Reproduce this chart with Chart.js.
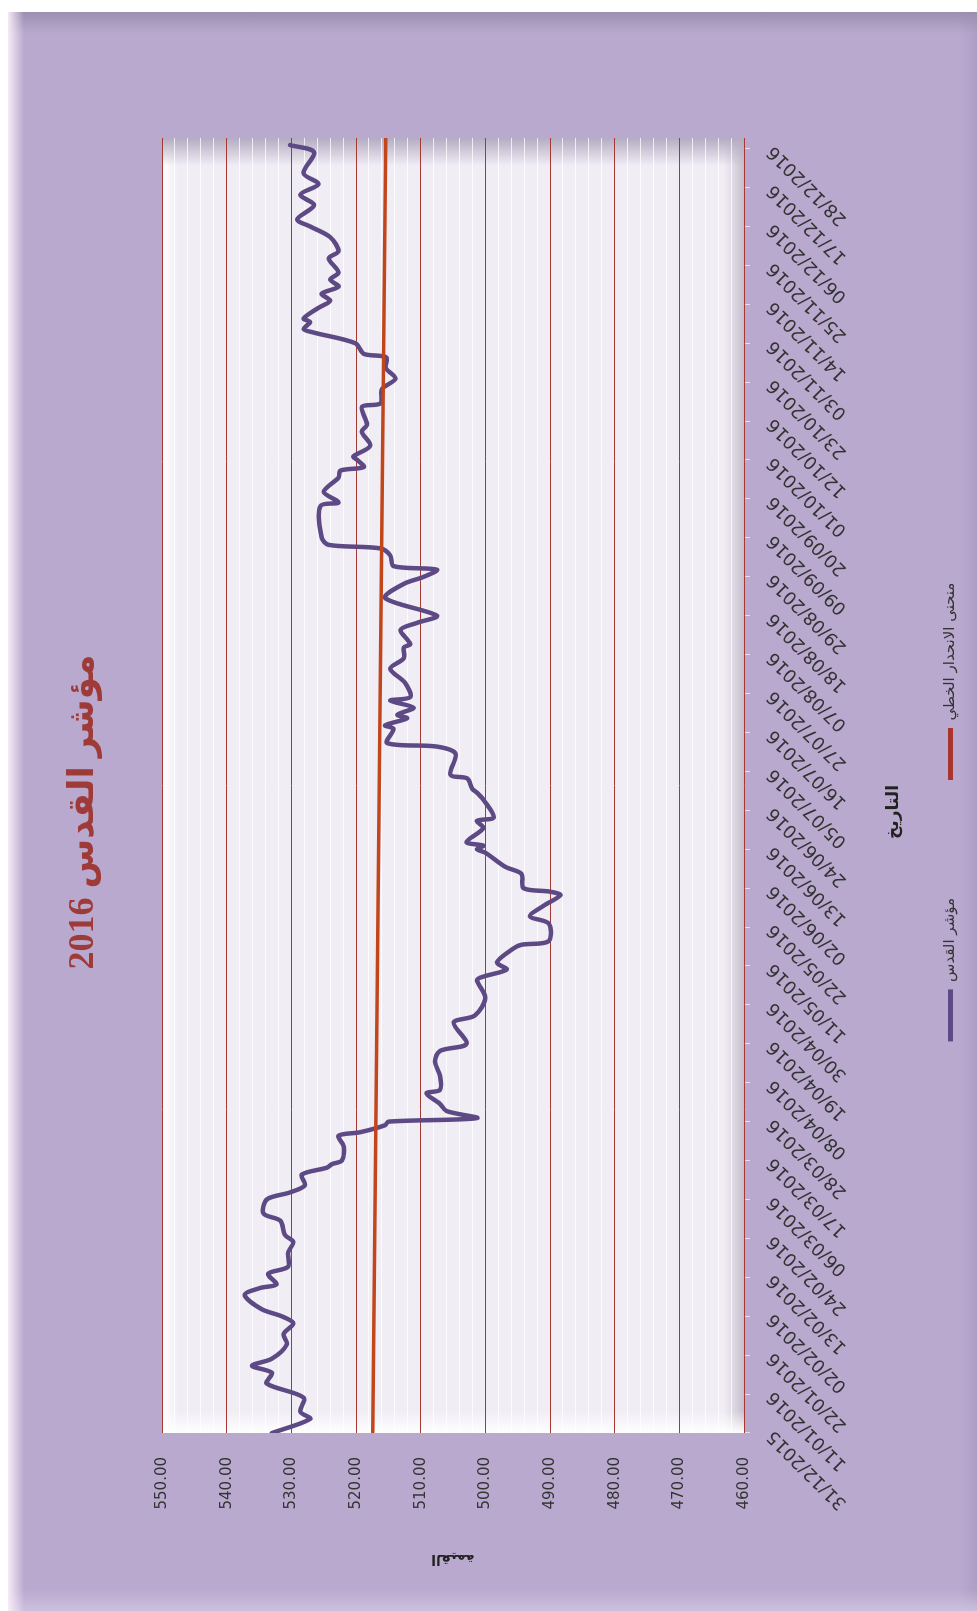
<!DOCTYPE html>
<html lang="ar">
<head>
<meta charset="utf-8">
<title>مؤشر القدس 2016</title>
<script src="https://cdn.jsdelivr.net/npm/chart.js@4.4.1/dist/chart.umd.min.js"></script>
<style>
  html, body { margin:0; padding:0; background:#ffffff; width:977px; height:1611px; overflow:hidden; }
  #rot { position:absolute; left:0; top:0; width:1611px; height:1001px; transform-origin:0 0; transform:translateY(1611px) rotate(-90deg); }
  #frame { position:absolute; left:0; top:8px; width:1599px; height:969px;
    background:
      linear-gradient(to bottom, rgba(250,238,248,0.95) 0px, rgba(250,238,248,0) 16px),
      linear-gradient(to left, rgba(150,138,170,0.85) 0px, rgba(150,138,170,0) 22px),
      linear-gradient(to right, rgba(210,198,226,0.8) 0px, rgba(210,198,226,0) 22px),
      linear-gradient(to top, rgba(165,150,190,0.6) 0px, rgba(165,150,190,0) 18px),
      #BAA9CF; }
  #c { position:absolute; left:0; top:0; }
</style>
</head>
<body>
<div id="rot">
  <div id="frame"></div>
  <canvas id="c" width="1611" height="1001"></canvas>
</div>
<script>
// ---- data ----
const chartTitle = 'مؤشر القدس 2016';
const seriesName = 'مؤشر القدس';
const trendName = 'منحنى الانحدار الخطي';
const xTitle = 'التاريخ';
const yTitle = 'القيمة';

const dates = [
 '2015-12-31','2016-01-04','2016-01-06','2016-01-10','2016-01-14','2016-01-17','2016-01-19','2016-01-21','2016-01-25','2016-01-28',
 '2016-01-31','2016-02-02','2016-02-04','2016-02-08','2016-02-10','2016-02-11','2016-02-14','2016-02-16','2016-02-20','2016-02-23',
 '2016-02-25','2016-02-29','2016-03-02','2016-03-06','2016-03-08','2016-03-10','2016-03-13','2016-03-15','2016-03-16','2016-03-17',
 '2016-03-21','2016-03-24','2016-03-25','2016-03-27','2016-03-28','2016-03-29','2016-03-31','2016-04-02','2016-04-05','2016-04-06',
 '2016-04-10','2016-04-14','2016-04-17','2016-04-19','2016-04-25','2016-04-27','2016-05-02','2016-05-07','2016-05-08','2016-05-10',
 '2016-05-12','2016-05-16','2016-05-17','2016-05-18','2016-05-23','2016-05-25','2016-05-28','2016-05-31','2016-06-01','2016-06-02',
 '2016-06-06','2016-06-08','2016-06-12','2016-06-13','2016-06-14','2016-06-15','2016-06-19','2016-06-21','2016-06-22','2016-06-27',
 '2016-06-29','2016-06-30','2016-07-03','2016-07-04','2016-07-10','2016-07-12','2016-07-13','2016-07-17','2016-07-18','2016-07-20',
 '2016-07-21','2016-07-23','2016-07-25','2016-07-26','2016-07-30','2016-08-03','2016-08-06','2016-08-09','2016-08-10','2016-08-14',
 '2016-08-16','2016-08-18','2016-08-23','2016-08-27','2016-08-29','2016-08-31','2016-09-01','2016-09-04','2016-09-06','2016-09-07',
 '2016-09-09','2016-09-18','2016-09-19','2016-09-22','2016-09-26','2016-09-28','2016-09-29','2016-10-01','2016-10-02','2016-10-05',
 '2016-10-09','2016-10-11','2016-10-16','2016-10-17','2016-10-21','2016-10-24','2016-10-27','2016-10-30','2016-10-31','2016-11-03',
 '2016-11-06','2016-11-07','2016-11-09','2016-11-10','2016-11-13','2016-11-15','2016-11-17','2016-11-19','2016-11-21','2016-11-23',
 '2016-11-27','2016-11-29','2016-12-03','2016-12-06','2016-12-08','2016-12-12','2016-12-15','2016-12-18','2016-12-21','2016-12-27',
 '2016-12-29'
];
const values = [
 533.0,527.1,528.6,528.1,533.8,533.0,536.1,533.0,530.7,531.2,
 529.7,531.5,534.6,537.2,534.8,532.3,533.6,530.5,530.5,529.7,
 531.0,531.7,534.3,533.8,530.2,527.9,528.4,524.5,523.7,522.2,
 521.9,522.7,519.4,515.5,515.0,501.3,506.0,507.0,509.1,507.0,
 507.0,507.8,507.0,502.9,504.9,501.6,500.0,501.3,500.3,496.7,
 498.2,495.6,494.4,490.2,490.2,493.1,491.0,488.4,490.0,494.1,
 494.4,496.9,500.0,501.3,500.3,502.9,500.3,501.3,498.7,500.3,
 501.3,502.0,502.8,505.4,504.6,507.5,515.2,514.2,515.5,512.1,
 513.6,511.1,514.7,511.6,512.4,514.7,512.6,512.6,511.6,513.1,
 510.5,507.5,515.5,512.6,509.5,507.5,514.2,514.7,516.2,524.2,
 525.3,525.5,522.7,525.0,522.7,522.4,518.8,519.8,520.4,517.8,
 519.1,518.3,519.1,516.2,516.0,513.9,515.4,515.3,518.8,520.1,
 526.5,528.1,527.1,528.1,525.8,524.0,525.3,522.7,524.0,522.7,
 524.2,522.7,524.0,527.1,529.1,526.5,528.6,525.8,528.1,526.5,
 530.2
];
const trendDates = ['2015-12-31','2016-12-31'];
const trendValues = [517.4, 515.4];
const tickLabels = ['31/12/2015','11/01/2016','22/01/2016','02/02/2016','13/02/2016','24/02/2016','06/03/2016','17/03/2016',
 '28/03/2016','08/04/2016','19/04/2016','30/04/2016','11/05/2016','22/05/2016','02/06/2016','13/06/2016','24/06/2016',
 '05/07/2016','16/07/2016','27/07/2016','07/08/2016','18/08/2016','29/08/2016','09/09/2016','20/09/2016','01/10/2016',
 '12/10/2016','23/10/2016','03/11/2016','14/11/2016','25/11/2016','06/12/2016','17/12/2016','28/12/2016'];
const axisStart = '2015-12-31';
const axisEnd = '2016-12-31';

// ---- helpers ----
const DAY = 86400000;
function isoDay(s){ const [y,m,d] = s.split('-').map(Number); return Date.UTC(y,m-1,d); }
const BASE = isoDay(axisStart);
function dayOf(s){ return Math.round((isoDay(s) - BASE)/DAY); }
function dayOfLabel(l){ const [d,m,y] = l.split('/').map(Number); return Math.round((Date.UTC(y,m-1,d) - BASE)/DAY); }
const labelByDay = {};
tickLabels.forEach(l => { labelByDay[dayOfLabel(l)] = l; });

const plotBg = {
  id:'plotBg',
  beforeDraw(chart){
    const {ctx, chartArea:{left,top,right,bottom}} = chart;
    const w = right-left, h = bottom-top;
    ctx.save();
    ctx.fillStyle = '#F1EDF5';
    ctx.fillRect(left, top, w, h);
    let g = ctx.createLinearGradient(0, top, 0, top+16);
    g.addColorStop(0,'rgba(255,255,255,1)'); g.addColorStop(1,'rgba(255,255,255,0)');
    ctx.fillStyle = g; ctx.fillRect(left, top, w, 16);
    g = ctx.createLinearGradient(0, bottom, 0, bottom-20);
    g.addColorStop(0,'rgba(198,192,206,1)'); g.addColorStop(1,'rgba(198,192,206,0)');
    ctx.fillStyle = g; ctx.fillRect(left, bottom-20, w, 20);
    g = ctx.createLinearGradient(right, 0, right-28, 0);
    g.addColorStop(0,'rgba(180,172,194,1)'); g.addColorStop(1,'rgba(180,172,194,0)');
    ctx.fillStyle = g; ctx.fillRect(right-28, top, 28, h);
    g = ctx.createLinearGradient(left, 0, left+22, 0);
    g.addColorStop(0,'rgba(255,255,255,0.95)'); g.addColorStop(1,'rgba(255,255,255,0)');
    ctx.fillStyle = g; ctx.fillRect(left, top, 22, h);
    ctx.restore();
  }
};

const FONT = 'DejaVu Sans';

new Chart(document.getElementById('c').getContext('2d'), {
  type: 'line',
  data: {
    datasets: [
      { label: seriesName, data: dates.map((d,i) => ({x: dayOf(d), y: values[i]})),
        borderColor:'#5D4A84', backgroundColor:'#5D4A84', borderWidth:4.5, pointRadius:0,
        tension:0.3, borderJoinStyle:'round', borderCapStyle:'round', order:1 },
      { label: trendName, data: trendDates.map((d,i) => ({x: dayOf(d), y: trendValues[i]})),
        borderColor:'#C2461C', backgroundColor:'#A8342E', borderWidth:3.5, pointRadius:0, order:0 }
    ]
  },
  options: {
    responsive:false, animation:false, devicePixelRatio:1,
    layout:{ padding:{ left:95, right:108, top:0, bottom:4 } },
    scales:{
      x:{ type:'linear', min:dayOf(axisStart), max:dayOf(axisEnd),
          afterBuildTicks: a => { a.ticks = tickLabels.map(l => ({value: dayOfLabel(l)})); },
          afterFit: s => { s.height = 110; s.paddingRight = 138; },
          ticks:{ autoSkip:false, minRotation:45, maxRotation:45, padding:13,
                  font:{family:FONT, size:18}, color:'#333333',
                  callback: v => labelByDay[v] || '' },
          grid:{ drawOnChartArea:false, drawTicks:true, tickLength:6, tickColor:'#E4E0EA', color:'#E4E0EA' },
          border:{ display:false } },
      y:{ min:460, max:550,
          afterFit: s => { s.width = 83; },
          ticks:{ stepSize:2, autoSkip:false, padding:24, font:{family:FONT, size:15}, color:'#333333',
                  callback: v => (Math.round(v) % 10 === 0 ? Number(v).toFixed(2) : '') },
          grid:{ drawTicks:false, lineWidth:1,
                 color: c => (c.tick && Math.round(c.tick.value) % 10 === 0) ? '#A53A34' : 'rgba(255,255,255,0.75)' },
          border:{ display:false },
          title:{ display:true, text:yTitle, color:'#222222', font:{family:FONT, size:14, weight:'bold'}, padding:{top:-51, bottom:0} } }
    },
    plugins:{
      title:{ display:true, text:chartTitle, color:'#9E3B38',
              font:{family:"'Liberation Serif', 'DejaVu Sans'", size:36, weight:'bold'}, padding:{top:62, bottom:56.8} },
      subtitle:{ display:true, position:'bottom', weight:500, text:xTitle, color:'#222222',
                 font:{family:FONT, size:17, weight:'bold'}, padding:{top:29.3, bottom:-78.7} },
      legend:{ display:true, position:'bottom',
               labels:{ boxWidth:52, boxHeight:5, padding:118, color:'#333333', font:{family:FONT, size:15},
                        sort: (a,b) => a.datasetIndex - b.datasetIndex,
                        generateLabels: chart => Chart.defaults.plugins.legend.labels.generateLabels(chart)
                          .map(it => Object.assign(it, { lineWidth:0, fillStyle: chart.data.datasets[it.datasetIndex].backgroundColor })) } },
      tooltip:{ enabled:false }
    }
  },
  plugins:[plotBg]
});
</script>
</body>
</html>
